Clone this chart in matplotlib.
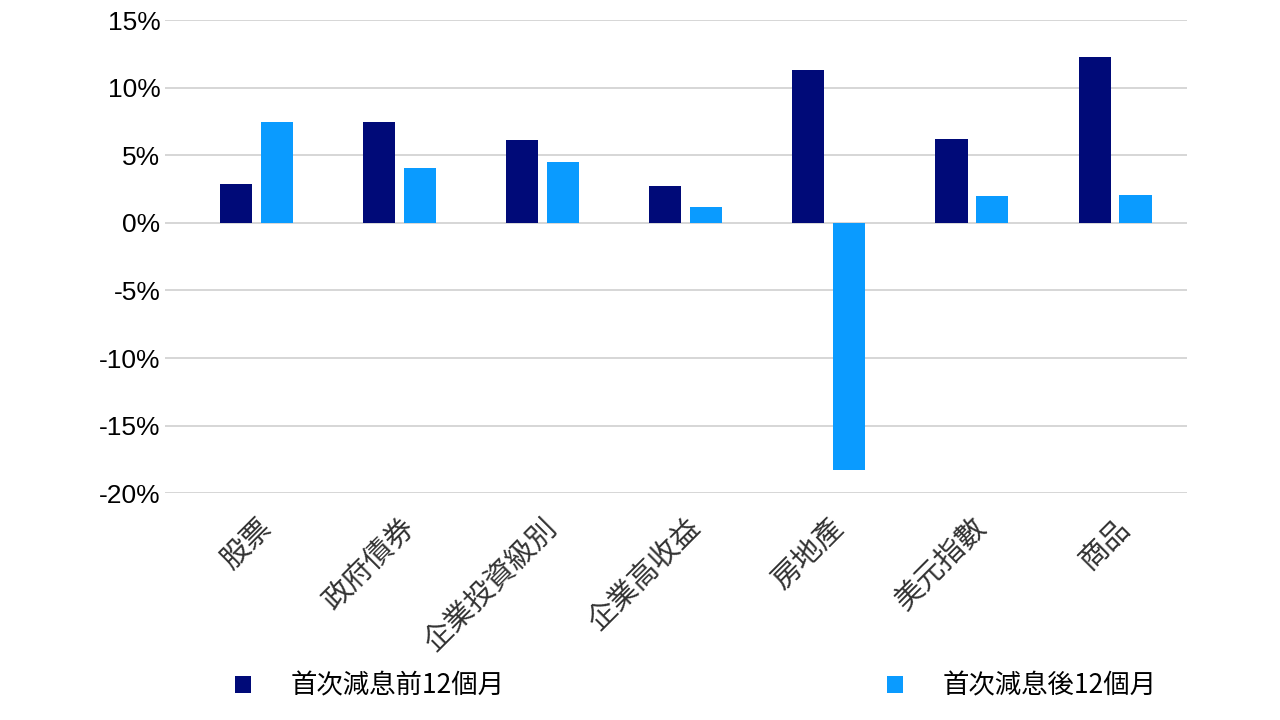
import matplotlib.pyplot as plt
from matplotlib import font_manager
import numpy as np

categories = ['股票', '政府債券', '企業投資級別', '企業高收益', '房地產', '美元指數', '商品']
before = [2.85, 7.45, 6.1, 2.7, 11.3, 6.2, 12.25]
after = [7.45, 4.05, 4.5, 1.15, -18.3, 2.0, 2.05]
yticks = [15, 10, 5, 0, -5, -10, -15, -20]

# pick an installed CJK family by whatever name matplotlib registered it under
cjk_names = sorted({f.name for f in font_manager.fontManager.ttflist if 'CJK' in f.name})
cjk = next((n for n in cjk_names if 'TC' in n), cjk_names[0] if cjk_names else 'DejaVu Sans')
plt.rcParams['font.family'] = ['Liberation Sans', cjk]

fig = plt.figure(figsize=(12.8, 7.2), dpi=100)
ax = fig.add_axes([0.129, 0.315, 0.798, 0.657])

x = np.arange(len(categories))
w = 0.224
ax.bar(x - 0.143, before, w, color='#000A78', label='首次減息前12個月', zorder=3)
ax.bar(x + 0.143, after, w, color='#0A9BFF', label='首次減息後12個月', zorder=3)

ax.set_xlim(-0.64, 6.5)
ax.set_ylim(-20, 15)
ax.set_yticks(yticks)
ax.set_yticklabels([f'{v}%' for v in yticks], fontsize=19)
ax.grid(axis='y', color='#D0D0D0', linewidth=1.2, zorder=0)
ax.set_xticks(x)
ax.set_xticklabels(categories, rotation=45, ha='right', rotation_mode='anchor',
                   fontsize=21, fontfamily=cjk, color='#333333')
ax.tick_params(length=0)
ax.tick_params(axis='x', pad=14)
for s in ax.spines.values():
    s.set_visible(False)

fig.legend(loc='lower left', bbox_to_anchor=(0.165, -0.005), ncol=2, frameon=False,
           prop={'family': cjk, 'size': 19}, handlelength=0.6,
           handleheight=0.6, columnspacing=14.5, handletextpad=1.5)

fig.savefig('out.png', dpi=100)
